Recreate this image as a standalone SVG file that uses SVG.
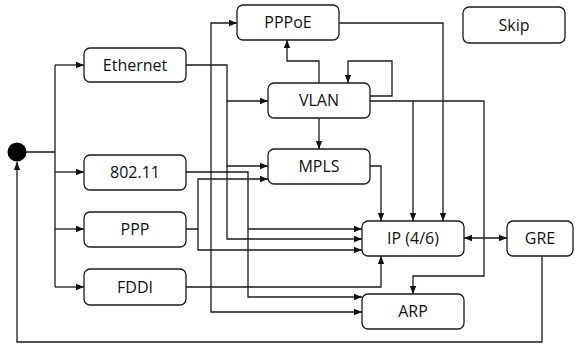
<svg xmlns="http://www.w3.org/2000/svg" width="575" height="345" viewBox="0 0 575 345">
<style>
.n rect{fill:#fff;stroke:#1a1a1a;stroke-width:1.3}
.n text{font-family:"Open Sans","Noto Sans",sans-serif;font-size:16px;fill:#111;text-anchor:middle;dominant-baseline:central}
.c path{fill:none;stroke:#1a1a1a;stroke-width:1.3}
</style>
<defs>
<marker id="a" markerUnits="userSpaceOnUse" markerWidth="8" markerHeight="8" refX="8" refY="4" orient="auto">
<path d="M0,0.8 L8,4 L0,7.2 Z" fill="#111"/>
</marker>
<marker id="s" markerUnits="userSpaceOnUse" markerWidth="8" markerHeight="8" refX="0" refY="4" orient="auto">
<path d="M8,0.8 L0,4 L8,7.2 Z" fill="#111"/>
</marker>
</defs>
<g class="c" id="connectors">
<path d="M17,152 H55" />
<path d="M55,65 V287" />
<path d="M55,65 H84" marker-end="url(#a)"/>
<path d="M55,172 H84" marker-end="url(#a)"/>
<path d="M55,229 H84" marker-end="url(#a)"/>
<path d="M55,287 H84" marker-end="url(#a)"/>
<path d="M542,256 V342 H17 V162" marker-end="url(#a)"/>
<path d="M186,65 H227 V101 H268" marker-end="url(#a)"/>
<path d="M227,101 V166 H268" marker-end="url(#a)"/>
<path d="M227,166 V239 H362" marker-end="url(#a)"/>
<path d="M211,65 V23 H237" marker-end="url(#a)"/>
<path d="M211,65 V312 H362" marker-end="url(#a)"/>
<path d="M186,172 H248 V229 H362" marker-end="url(#a)"/>
<path d="M248,229 V297 H362" marker-end="url(#a)"/>
<path d="M186,229 H198 V179 H268" marker-end="url(#a)"/>
<path d="M198,229 V250 H362" marker-end="url(#a)"/>
<path d="M186,287 H381 V256" marker-end="url(#a)"/>
<path d="M370,166 H381 V221" marker-end="url(#a)"/>
<path d="M319,83 V61 H287 V40" marker-end="url(#a)"/>
<path d="M370,96 H392 V61 H348 V83" marker-end="url(#a)"/>
<path d="M319,118 V149" marker-end="url(#a)"/>
<path d="M370,101 H413 V221" marker-end="url(#a)"/>
<path d="M413,101 H484 V276 H413 V294" marker-end="url(#a)"/>
<path d="M339,23 H443 V221" marker-end="url(#a)"/>
<path d="M464,238 H507" marker-start="url(#s)" marker-end="url(#a)"/>
</g>
<g id="start"><circle cx="17" cy="152" r="9.5" fill="#000"/></g>
<g class="n" id="ethernet"><rect x="84" y="48" width="102" height="34" rx="6"/><text x="135" y="65">Ethernet</text></g>
<g class="n" id="wifi"><rect x="84" y="155" width="102" height="35" rx="6"/><text x="135" y="172">802.11</text></g>
<g class="n" id="ppp"><rect x="84" y="212" width="102" height="35" rx="6"/><text x="135" y="229">PPP</text></g>
<g class="n" id="fddi"><rect x="84" y="269" width="102" height="36" rx="6"/><text x="135" y="287">FDDI</text></g>
<g class="n" id="pppoe"><rect x="237" y="5" width="102" height="35" rx="6"/><text x="288" y="22">PPPoE</text></g>
<g class="n" id="vlan"><rect x="268" y="83" width="102" height="35" rx="6"/><text x="319" y="100">VLAN</text></g>
<g class="n" id="mpls"><rect x="268" y="149" width="102" height="35" rx="6"/><text x="319" y="166">MPLS</text></g>
<g class="n" id="ip"><rect x="362" y="221" width="102" height="35" rx="6"/><text x="413" y="238">IP (4/6)</text></g>
<g class="n" id="arp"><rect x="362" y="294" width="102" height="35" rx="6"/><text x="413" y="311">ARP</text></g>
<g class="n" id="gre"><rect x="507" y="221" width="66" height="35" rx="6"/><text x="540" y="238">GRE</text></g>
<g class="n" id="skip"><rect x="463" y="7" width="102" height="36" rx="6"/><text x="514" y="25">Skip</text></g>
</svg>
